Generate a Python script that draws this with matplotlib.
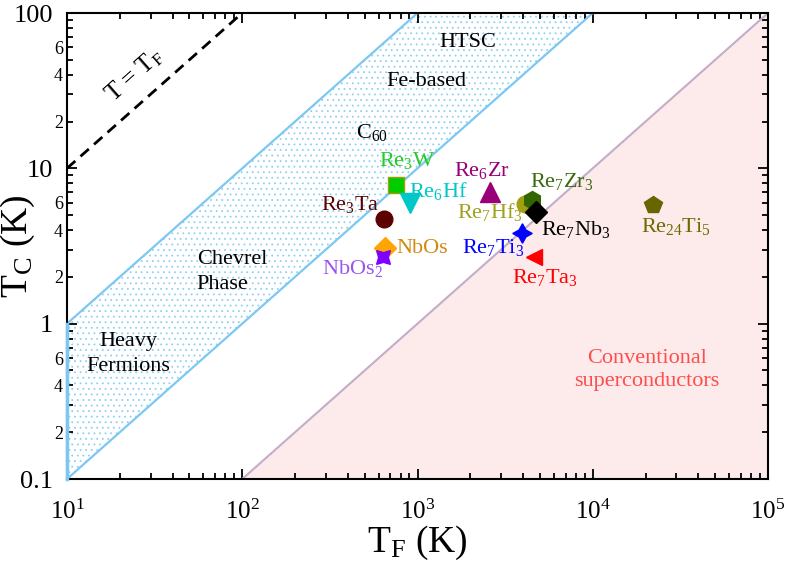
import numpy as np
import matplotlib
matplotlib.use("Agg")
import matplotlib.pyplot as plt
from matplotlib.ticker import LogLocator, FixedLocator, FixedFormatter, NullFormatter

plt.rcParams['font.family'] = ['Liberation Serif', 'DejaVu Serif']
plt.rcParams['mathtext.fontset'] = 'custom'
plt.rcParams['mathtext.rm'] = 'Liberation Serif'
plt.rcParams['mathtext.it'] = 'Liberation Serif:italic'
plt.rcParams['hatch.linewidth'] = 0.6

# ---- data ----
names = ['Re$_\\mathregular{3}$W', 'Re$_\\mathregular{6}$Hf', 'Re$_\\mathregular{3}$Ta', 'NbOs',
         'NbOs$_\\mathregular{2}$', 'Re$_\\mathregular{6}$Zr', 'Re$_\\mathregular{7}$Hf$_\\mathregular{3}$',
         'Re$_\\mathregular{7}$Zr$_\\mathregular{3}$', 'Re$_\\mathregular{7}$Nb$_\\mathregular{3}$',
         'Re$_\\mathregular{7}$Ti$_\\mathregular{3}$', 'Re$_\\mathregular{7}$Ta$_\\mathregular{3}$',
         'Re$_\\mathregular{24}$Ti$_\\mathregular{5}$']
TF = [754, 906, 644, 650, 636, 2593, 4105, 4500, 4745, 3947, 4621, 22080]
TC = [7.82, 5.99, 4.72, 3.07, 2.69, 7.05, 5.90, 6.26, 5.24, 3.84, 2.69, 5.81]
colors = ['#00cc00', '#00c8c8', '#5c0000', '#ffa500', '#7f00ff', '#990077', '#a0a010',
          '#336600', '#000000', '#0000ff', '#ff0000', '#666600']
label_colors = ['#22cc22', '#00c8c8', '#5c0000', '#d08a10', '#9955ee', '#990077', '#a0a020',
                '#3a6a10', '#000000', '#0000ff', '#ff0000', '#6b6b00']
markers = ['s', 'v', 'o', 'D', (4, 1, 45), '^', 'o', 'h', 'D', (4, 1, 0), '<', 'p']
msizes = [11, 14, 12, 11, 14, 14, 12, 13, 11.5, 14, 12, 13]
# label centre positions (data coordinates)
lab_x = [871, 1309, 412, 1061, 423, 2334, 2593, 6680, 8020, 2697, 5340, 29870]
lab_y = [11.2, 7.16, 5.81, 3.03, 2.28, 9.62, 5.24, 8.17, 4.01, 3.07, 1.97, 4.20]

# region lines
band_lo_x = [10, 1e4]; band_lo_y = [0.1, 100]
band_hi_x = [10, 1e3]; band_hi_y = [1, 100]
conv_x = [100, 1e5]; conv_y = [0.1, 100]
tf_x = [10, 100]; tf_y = [10, 100]

fig = plt.figure(figsize=(7.89, 5.65), dpi=100)
ax = fig.add_axes([67/789, 1 - 479/565, (768 - 67)/789, (479 - 13)/565])
ax.set_xscale('log'); ax.set_yscale('log')
ax.set_xlim(10, 1e5); ax.set_ylim(0.1, 100)

# blue band (hatched)
poly_x = [10, 10, 1e3, 1e4]
poly_y = [0.1, 1, 100, 100]
ax.fill(poly_x, poly_y, facecolor='white', edgecolor='#8fd0f4', linewidth=0,
        hatch='...', zorder=1)
ax.plot(band_lo_x, band_lo_y, color='#7cc8f2', lw=1.6, zorder=2)
ax.plot(band_hi_x, band_hi_y, color='#7cc8f2', lw=1.6, zorder=2)
ax.plot([10, 10], [0.1, 1], color='#7cc8f2', lw=2.5, zorder=11, clip_on=False)

# conventional region
ax.fill([100, 1e5, 1e5], [0.1, 100, 0.1], facecolor='#fdeaea', edgecolor='none', zorder=1)
ax.plot(conv_x, conv_y, color='#c4adc8', lw=1.5, zorder=2)

# T = T_F
ax.plot(tf_x, tf_y, color='black', ls=(0, (4, 2.5)), lw=2, zorder=3)
ax.text(24.4, 39.9, r'T = T$_\mathregular{F}$', rotation=41.5, fontsize=18,
        ha='center', va='center')

# region texts
ax.text(1940, 64.2, 'HTSC', fontsize=16, ha='center', va='center')
ax.text(1130, 36.0, 'Fe-based', fontsize=16, ha='center', va='center')
ax.text(550, 17.0, r'C$_\mathregular{60}$', fontsize=16, ha='center', va='center')
ax.text(87.4, 2.15, 'Chevrel\nPhase', fontsize=16, ha='center', va='center',
        multialignment='left', linespacing=1.4)
ax.text(22.3, 0.638, 'Heavy\nFermions', fontsize=16, ha='center', va='center',
        linespacing=1.4)
ax.text(20400, 0.503, 'Conventional\nsuperconductors', fontsize=16, ha='center', va='center',
        color='#ff4d4d', linespacing=1.3)

# data points
for i in range(len(TF)):
    ec = '#a0a000' if i == 0 else colors[i]
    ax.plot(TF[i], TC[i], marker=markers[i], ms=msizes[i], color=colors[i],
            markeredgecolor=ec, mew=1, ls='none', zorder=5 + (1 if i == 8 else 0))
    ax.text(lab_x[i], lab_y[i], names[i], fontsize=16, color=label_colors[i],
            ha='center', va='center', zorder=7)

# ticks
ax.tick_params(which='both', direction='in', top=True, right=True, width=1.3)
ax.tick_params(which='major', length=7)
ax.tick_params(which='minor', length=4)
ax.xaxis.set_major_locator(FixedLocator([10, 100, 1e3, 1e4, 1e5]))
ax.xaxis.set_major_formatter(FixedFormatter([r'10$^\mathregular{1}$', r'10$^\mathregular{2}$',
                                             r'10$^\mathregular{3}$', r'10$^\mathregular{4}$',
                                             r'10$^\mathregular{5}$']))
ax.xaxis.set_minor_locator(LogLocator(base=10, subs=np.arange(2, 10)))
ax.xaxis.set_minor_formatter(NullFormatter())
ax.tick_params(axis='x', which='major', labelsize=18, pad=15)

ax.yaxis.set_major_locator(FixedLocator([0.1, 1, 10, 100]))
ax.yaxis.set_major_formatter(FixedFormatter(['0.1', '1', '10', '100']))
minor_ticks = [s * 10.0**e for e in (-1, 0, 1) for s in range(2, 10)]
minor_labels = [str(s) if s in (2, 4, 6) else '' for e in (-1, 0, 1) for s in range(2, 10)]
ax.yaxis.set_minor_locator(FixedLocator(minor_ticks))
ax.yaxis.set_minor_formatter(FixedFormatter(minor_labels))
ax.tick_params(axis='y', which='major', labelsize=19, pad=10)
ax.tick_params(axis='y', which='minor', labelsize=13, pad=3)

for sp in ax.spines.values():
    sp.set_linewidth(1.5)
    sp.set_zorder(10)

ax.set_xlabel(r'T$_\mathregular{F}$ (K)', fontsize=27)
ax.set_ylabel(r'T$_\mathregular{C}$ (K)', fontsize=27)
ax.xaxis.set_label_coords(0.5, -0.095)
ax.yaxis.set_label_coords(-0.043, 0.50)

fig.savefig('out.png', dpi=100)
